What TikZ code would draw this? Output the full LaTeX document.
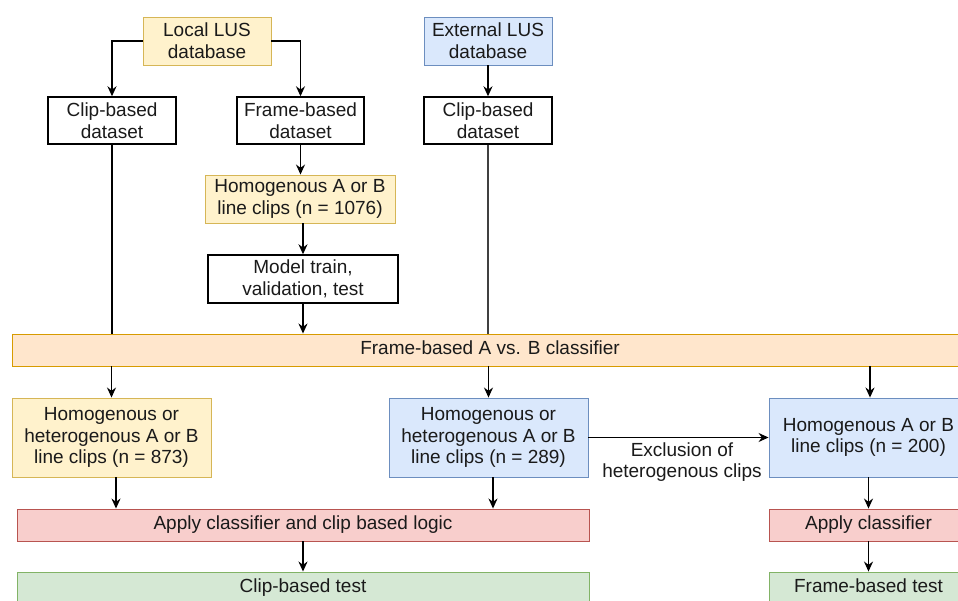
\documentclass[tikz,border=0pt]{standalone}
\usepackage{fontspec}
\setmainfont{Liberation Sans}
\usetikzlibrary{arrows.meta,calc}
\definecolor{ylwF}{HTML}{FFF2CC}\definecolor{ylwD}{HTML}{D6B656}
\definecolor{bluF}{HTML}{DAE8FC}\definecolor{bluD}{HTML}{6C8EBF}
\definecolor{orgF}{HTML}{FFE6CC}\definecolor{orgD}{HTML}{D79B00}
\definecolor{pnkF}{HTML}{F8CECC}\definecolor{pnkD}{HTML}{B85450}
\definecolor{grnF}{HTML}{D5E8D4}\definecolor{grnD}{HTML}{82B366}
\definecolor{txt}{HTML}{1A1A1A}
\begin{document}
\begin{tikzpicture}[x=1pt,y=-1pt,
  every node/.style={font=\fontsize{19}{21.7}\selectfont, text=txt, align=center, inner sep=0pt},
  box/.style={draw, rectangle, minimum width=#1},
  one/.style={text height=13.7pt, text depth=4pt},
  plain/.style={box=#1, draw=black, line width=1.4pt, fill=white},
  ylw/.style={box=#1, draw=ylwD, line width=0.9pt, fill=ylwF},
  blu/.style={box=#1, draw=bluD, line width=0.9pt, fill=bluF},
  org/.style={box=#1, draw=orgD, line width=0.9pt, fill=orgF},
  pnk/.style={box=#1, draw=pnkD, line width=0.9pt, fill=pnkF},
  grn/.style={box=#1, draw=grnD, line width=0.9pt, fill=grnF},
  arr/.style={draw=black, line width=1.4pt, -{Stealth[length=10pt,width=9pt]}},
  ln/.style={draw=black, line width=1.4pt}
]
\useasboundingbox (0,0) rectangle (958,601);
\fill[white] (0,0) rectangle (958,601);
\clip (0,0) rectangle (958,601);

% top row
\node[ylw=128pt, minimum height=48pt] (local) at (207,41) {Local LUS\\database};
\node[blu=128pt, minimum height=48pt] (ext) at (488,41) {External LUS\\database};
\node[plain=128pt, minimum height=47pt] (clipL) at (112,120.5) {Clip-based\\dataset};
\node[plain=127pt, minimum height=47pt] (frame) at (300.5,120.5) {Frame-based\\dataset};
\node[plain=128pt, minimum height=47pt] (clipR) at (488,120.5) {Clip-based\\dataset};
\node[ylw=190pt, minimum height=48pt] (homA) at (300,199) {Homogenous A or B\\line clips (n = 1076)};
\node[plain=190pt, minimum height=48pt] (model) at (303,279) {Model train,\\validation, test};

% classifier bar
\node[org=956pt, minimum height=32pt, one] (bar) at (490,350) {Frame-based A vs. B classifier};

% middle row
\node[ylw=199pt, minimum height=79pt] (yL) at (111.5,437.5) {Homogenous or\\heterogenous A or B\\line clips (n = 873)};
\node[blu=199pt, minimum height=79pt] (bM) at (488.5,437.5) {Homogenous or\\heterogenous A or B\\line clips (n = 289)};
\node[blu=199pt, minimum height=79pt] (bR) at (868.5,437.5) {Homogenous A or B\\line clips (n = 200)};

% bottom rows
\node[pnk=572pt, minimum height=32pt, one] (applyL) at (303,525) {Apply classifier and clip based logic};
\node[pnk=199pt, minimum height=32pt, one] (applyR) at (868.5,525) {Apply classifier};
\node[grn=572pt, minimum height=32pt, one] (testL) at (303,588) {Clip-based test};
\node[grn=199pt, minimum height=32pt, one] (testR) at (868.5,588) {Frame-based test};

% connectors
\draw[arr] (local.west) -| (clipL.north);
\draw[arr] (local.east) -| (frame.north);
\draw[arr] (ext.south) -- (clipR.north);
\draw[arr] (frame.south) -- (frame.south |- homA.north);
\draw[arr] (model.north |- homA.south) -- (model.north);
\draw[arr] (model.south) -- (model.south |- bar.north);
\draw[ln] (clipL.south) -- (clipL.south |- bar.north);
\draw[ln, draw=black!75] (clipR.south) -- (clipR.south |- bar.north);
\draw[arr] (bar.south -| yL.north) -- (yL.north);
\draw[arr] (bar.south -| bM.north) -- (bM.north);
\draw[arr] ([xshift=1.5pt]bar.south -| bR.north) -- ([xshift=1.5pt]bR.north);
\draw[arr] ([xshift=4.5pt]yL.south) -- ([xshift=4.5pt]yL.south |- applyL.north);
\draw[arr] ([xshift=4.5pt]bM.south) -- ([xshift=4.5pt]bM.south |- applyL.north);
\draw[arr] (bM.east) -- (bR.west);
\node (excl) at (682,462) {Exclusion of\\heterogenous clips};
\draw[arr] (applyL.south) -- (testL.north);
\draw[arr] (bR.south) -- (applyR.north);
\draw[arr] (applyR.south) -- (testR.north);
\end{tikzpicture}
\end{document}
